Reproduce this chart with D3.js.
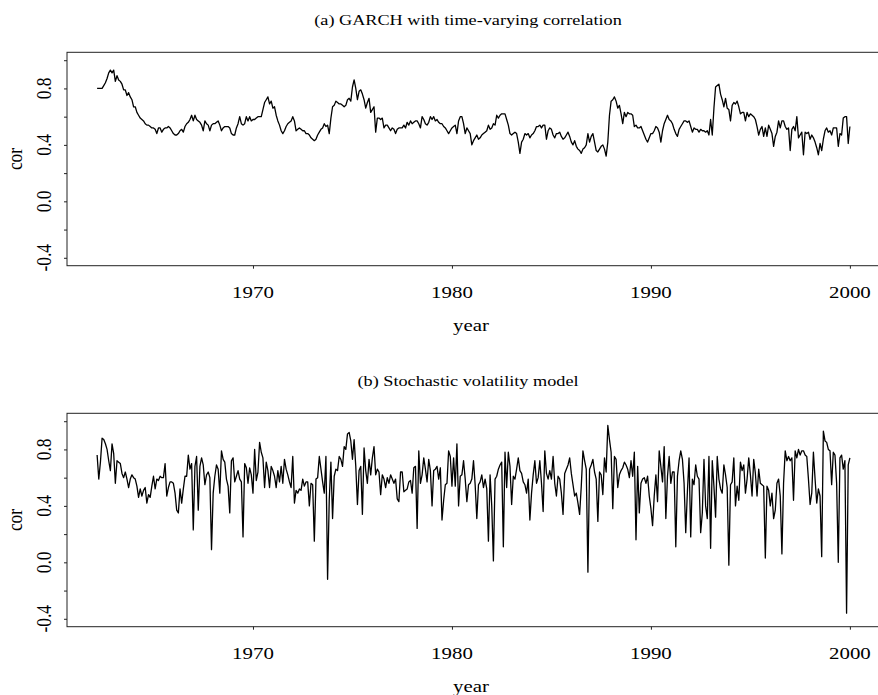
<!DOCTYPE html>
<html>
<head>
<meta charset="utf-8">
<script src="https://cdn.jsdelivr.net/npm/d3@7/dist/d3.min.js"></script>
<style>
  html, body { margin: 0; padding: 0; background: #fff; }
  svg { display: block; }
</style>
</head>
<body>
<svg id="chart" width="878" height="695"></svg>
<script>
// Monthly series, March 1962 to January 2000 (455 months)
const startYear = 1962 + 2 / 12;

// (a) GARCH with time-varying correlation
const garchCor = [
  0.80,0.80,0.80,0.80,0.82,0.84,0.87,0.91,0.93,0.91,
  0.93,0.85,0.89,0.86,0.85,0.83,0.79,0.79,0.75,0.77,
  0.74,0.72,0.67,0.67,0.63,0.61,0.59,0.58,0.57,0.55,
  0.54,0.54,0.53,0.52,0.52,0.51,0.48,0.52,0.52,0.49,
  0.51,0.52,0.52,0.53,0.52,0.50,0.48,0.47,0.47,0.48,
  0.50,0.51,0.49,0.53,0.55,0.56,0.58,0.61,0.57,0.61,
  0.58,0.57,0.56,0.54,0.50,0.57,0.55,0.54,0.50,0.54,
  0.55,0.55,0.56,0.57,0.54,0.50,0.52,0.53,0.53,0.53,
  0.52,0.48,0.47,0.47,0.52,0.55,0.60,0.55,0.54,0.55,
  0.60,0.57,0.60,0.57,0.58,0.58,0.59,0.60,0.60,0.60,
  0.65,0.70,0.72,0.74,0.69,0.71,0.66,0.67,0.61,0.57,
  0.54,0.50,0.48,0.50,0.53,0.55,0.56,0.57,0.60,0.57,
  0.50,0.51,0.52,0.51,0.50,0.50,0.48,0.48,0.47,0.45,
  0.44,0.43,0.44,0.47,0.49,0.51,0.52,0.55,0.53,0.54,
  0.48,0.59,0.67,0.68,0.71,0.70,0.69,0.69,0.68,0.67,
  0.68,0.72,0.73,0.71,0.81,0.86,0.80,0.72,0.78,0.79,
  0.76,0.72,0.66,0.70,0.73,0.63,0.65,0.67,0.49,0.59,
  0.59,0.58,0.59,0.52,0.54,0.54,0.52,0.50,0.52,0.51,
  0.48,0.51,0.52,0.52,0.52,0.54,0.52,0.56,0.54,0.57,
  0.55,0.56,0.57,0.57,0.55,0.52,0.60,0.58,0.55,0.54,
  0.56,0.60,0.58,0.60,0.57,0.58,0.56,0.55,0.55,0.53,
  0.52,0.50,0.48,0.50,0.52,0.53,0.54,0.48,0.57,0.60,
  0.60,0.55,0.48,0.52,0.50,0.48,0.40,0.43,0.45,0.47,
  0.44,0.45,0.47,0.48,0.49,0.50,0.54,0.51,0.52,0.55,
  0.54,0.61,0.59,0.61,0.62,0.62,0.62,0.58,0.54,0.48,
  0.47,0.48,0.49,0.48,0.42,0.34,0.42,0.44,0.48,0.47,
  0.48,0.45,0.47,0.48,0.50,0.53,0.53,0.54,0.52,0.54,
  0.54,0.44,0.50,0.52,0.51,0.47,0.45,0.48,0.48,0.49,
  0.46,0.44,0.45,0.47,0.49,0.46,0.42,0.40,0.43,0.39,
  0.37,0.36,0.34,0.37,0.38,0.40,0.48,0.42,0.46,0.48,
  0.42,0.36,0.35,0.37,0.39,0.40,0.37,0.32,0.42,0.61,
  0.71,0.72,0.74,0.71,0.66,0.68,0.62,0.55,0.63,0.60,
  0.63,0.62,0.62,0.61,0.53,0.54,0.52,0.52,0.53,0.50,
  0.47,0.44,0.42,0.45,0.48,0.48,0.50,0.53,0.52,0.49,
  0.42,0.50,0.55,0.58,0.61,0.58,0.57,0.55,0.51,0.48,
  0.46,0.51,0.53,0.55,0.57,0.57,0.56,0.57,0.53,0.49,
  0.52,0.51,0.51,0.49,0.51,0.50,0.50,0.49,0.50,0.47,
  0.58,0.47,0.66,0.81,0.82,0.83,0.76,0.72,0.67,0.73,
  0.66,0.65,0.57,0.68,0.70,0.69,0.71,0.67,0.62,0.63,
  0.63,0.57,0.63,0.60,0.62,0.61,0.60,0.58,0.53,0.47,
  0.51,0.53,0.46,0.52,0.46,0.54,0.51,0.48,0.39,0.46,
  0.49,0.57,0.52,0.57,0.57,0.53,0.51,0.52,0.36,0.51,
  0.53,0.50,0.60,0.45,0.47,0.49,0.33,0.49,0.48,0.49,
  0.44,0.47,0.45,0.42,0.38,0.33,0.41,0.36,0.44,0.50,
  0.52,0.49,0.50,0.47,0.52,0.52,0.52,0.39,0.48,0.47,
  0.59,0.60,0.60,0.41,0.53
];

// (b) Stochastic volatility model
const svCor = [
  0.76,0.59,0.71,0.88,0.87,0.84,0.80,0.72,0.65,0.84,
  0.77,0.56,0.72,0.71,0.70,0.63,0.60,0.64,0.59,0.53,
  0.59,0.62,0.60,0.59,0.54,0.46,0.52,0.47,0.51,0.53,
  0.42,0.48,0.46,0.54,0.61,0.52,0.59,0.58,0.61,0.60,
  0.60,0.70,0.47,0.53,0.57,0.57,0.56,0.49,0.37,0.35,
  0.52,0.42,0.52,0.61,0.61,0.76,0.66,0.70,0.23,0.68,
  0.75,0.37,0.68,0.74,0.69,0.55,0.62,0.64,0.60,0.09,
  0.49,0.61,0.69,0.66,0.49,0.79,0.73,0.71,0.59,0.54,
  0.35,0.72,0.74,0.57,0.61,0.65,0.59,0.57,0.18,0.70,
  0.67,0.56,0.67,0.62,0.49,0.80,0.58,0.64,0.85,0.78,
  0.74,0.53,0.71,0.65,0.53,0.68,0.65,0.61,0.53,0.65,
  0.57,0.68,0.56,0.73,0.66,0.62,0.57,0.53,0.75,0.42,
  0.51,0.49,0.52,0.51,0.59,0.54,0.57,0.57,0.40,0.56,
  0.55,0.15,0.59,0.60,0.75,0.66,0.57,0.49,0.75,-0.12,
  0.44,0.71,0.31,0.61,0.66,0.65,0.75,0.73,0.68,0.82,
  0.80,0.91,0.92,0.86,0.73,0.87,0.68,0.41,0.65,0.68,
  0.34,0.81,0.65,0.56,0.73,0.62,0.74,0.82,0.62,0.66,
  0.64,0.48,0.62,0.59,0.53,0.60,0.56,0.62,0.59,0.56,
  0.59,0.45,0.43,0.64,0.64,0.50,0.51,0.52,0.57,0.58,
  0.49,0.67,0.68,0.24,0.79,0.56,0.62,0.74,0.66,0.57,
  0.73,0.65,0.40,0.65,0.66,0.68,0.59,0.67,0.30,0.44,
  0.55,0.56,0.79,0.75,0.54,0.74,0.54,0.84,0.40,0.61,
  0.62,0.72,0.59,0.43,0.55,0.56,0.59,0.72,0.55,0.31,
  0.55,0.57,0.62,0.53,0.59,0.52,0.15,0.62,0.40,0.01,
  0.59,0.61,0.66,0.69,0.71,0.11,0.78,0.53,0.78,0.68,
  0.41,0.61,0.59,0.66,0.74,0.65,0.63,0.57,0.55,0.49,
  0.59,0.30,0.49,0.62,0.72,0.56,0.60,0.72,0.56,0.36,
  0.79,0.63,0.59,0.65,0.59,0.75,0.56,0.47,0.61,0.59,
  0.49,0.34,0.63,0.66,0.69,0.74,0.63,0.55,0.47,0.49,
  0.42,0.34,0.54,0.79,0.72,0.66,-0.07,0.66,0.69,0.73,
  0.64,0.59,0.29,0.64,0.62,0.48,0.74,0.64,0.97,0.87,
  0.78,0.38,0.75,0.73,0.53,0.62,0.65,0.67,0.71,0.69,
  0.66,0.60,0.72,0.61,0.78,0.16,0.68,0.35,0.56,0.59,
  0.60,0.56,0.61,0.47,0.38,0.26,0.47,0.62,0.43,0.79,
  0.68,0.57,0.82,0.31,0.61,0.75,0.56,0.64,0.64,0.11,
  0.61,0.72,0.79,0.73,0.56,0.21,0.50,0.74,0.18,0.59,
  0.55,0.69,0.61,0.59,0.21,0.35,0.73,0.40,0.31,0.75,
  0.10,0.72,0.54,0.32,0.75,0.59,0.52,0.49,0.69,0.62,
  0.53,-0.02,0.55,0.57,0.74,0.40,0.54,0.44,0.71,0.65,
  0.69,0.49,0.59,0.74,0.62,0.47,0.73,0.63,0.47,0.66,
  0.56,0.55,0.54,0.03,0.54,0.51,0.40,0.49,0.31,0.37,
  0.56,0.59,0.47,0.06,0.56,0.79,0.72,0.75,0.72,0.74,
  0.44,0.79,0.74,0.80,0.76,0.79,0.79,0.76,0.75,0.59,
  0.41,0.49,0.78,0.59,0.42,0.52,0.47,0.04,0.93,0.86,
  0.85,0.80,0.79,0.55,0.78,0.76,0.56,0.00,0.74,0.76,
  0.66,0.72,-0.36,0.69,0.74
];

const panelTitles = ["(a) GARCH with time-varying correlation", "(b) Stochastic volatility model"];
const xTickValues = [1970, 1980, 1990, 2000];
const yTickValues = [-0.4, -0.2, 0.0, 0.2, 0.4, 0.6, 0.8, 1.0];
const yLabelValues = [-0.4, 0.0, 0.4, 0.8];
const xLabel = "year";
const yLabel = "cor";

const svg = d3.select("#chart");
const FONT = "'Liberation Serif', 'Times New Roman', serif";
const SX = 1.2;          // horizontal stretch of the lettering
const FS = 17.4;         // font size of axis text

const panels = [
  { title: panelTitles[0], values: garchCor, top: 52.3 },
  { title: panelTitles[1], values: svCor,    top: 413.3 }
];
const plotH = 213.4;
const plotLeft = 67, plotRight = 880;

// R-style axis limits: the data/limit range widened by 4% on each side
function padded(lo, hi) { const p = (hi - lo) * 0.04; return [lo - p, hi + p]; }

function label(g, x, y, str, opts = {}) {
  const t = `translate(${x},${y}) scale(${SX},1)` + (opts.rotate ? " rotate(-90)" : "");
  g.append("g").attr("transform", t)
    .append("text")
    .attr("text-anchor", opts.anchor || "middle")
    .attr("font-family", FONT)
    .attr("font-size", opts.size || FS)
    .attr("fill", "#000")
    .text(str);
}

panels.forEach(p => {
  const n = p.values.length;
  const dates = d3.range(n).map(i => startYear + i / 12);
  const x = d3.scaleLinear().domain(padded(dates[0], dates[n - 1])).range([plotLeft, plotRight]);
  const y = d3.scaleLinear().domain(padded(-0.4, 1.0)).range([p.top + plotH, p.top]);
  const g = svg.append("g");

  // series
  const line = d3.line().x((d, i) => x(dates[i])).y(d => y(d));
  g.append("path").datum(p.values)
    .attr("d", line)
    .attr("fill", "none")
    .attr("stroke", "#000")
    .attr("stroke-width", 1.3)
    .attr("stroke-linejoin", "round");

  // frame
  g.append("rect")
    .attr("x", plotLeft).attr("y", p.top)
    .attr("width", plotRight - plotLeft).attr("height", plotH)
    .attr("fill", "none").attr("stroke", "#222").attr("stroke-width", 1);

  // axes (ticks only; labels drawn separately)
  const ax = g.append("g").attr("transform", `translate(0,${p.top + plotH})`)
    .call(d3.axisBottom(x).tickValues(xTickValues).tickSize(3).tickFormat(""));
  const ay = g.append("g").attr("transform", `translate(${plotLeft},0)`)
    .call(d3.axisLeft(y).tickValues(yTickValues).tickSize(3).tickFormat(""));
  [ax, ay].forEach(a => {
    a.select(".domain").remove();
    a.selectAll("line").attr("stroke", "#222");
  });

  xTickValues.forEach(v => label(g, x(v), p.top + plotH + 32, String(v)));
  yLabelValues.forEach(v => label(g, 51, y(v), d3.format(".1f")(v).replace("−", "-"), { rotate: true }));

  label(g, 471, p.top + plotH + 65, xLabel);
  label(g, 21.5, p.top + plotH / 2, yLabel, { rotate: true });
  label(g, 468, p.top - 27, p.title, { size: 15.2 });
});
</script>
</body>
</html>
